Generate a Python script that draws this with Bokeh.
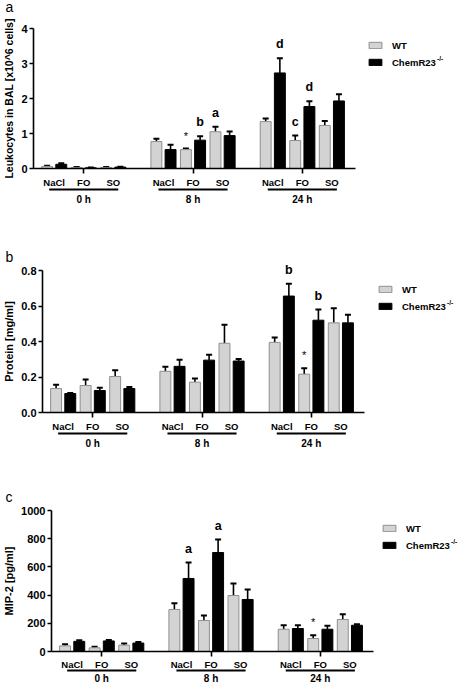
import numpy as np
from bokeh.plotting import figure
from bokeh.models import ColumnDataSource, FixedTicker, Range1d, Whisker, TeeHead, Legend, LegendItem
from bokeh.layouts import column
from bokeh.core.properties import value
from bokeh.embed import file_html
from bokeh.resources import INLINE

# ---------------- data ----------------
times = ["0 h", "8 h", "24 h"]
treatments = ["NaCl", "FO", "SO"]
series_names = ["WT", "ChemR23"]
# order: 0h NaCl, 0h FO, 0h SO, 8h NaCl, 8h FO, 8h SO, 24h NaCl, 24h FO, 24h SO

leuko_wt = [0.06, 0.03, 0.03, 0.77, 0.54, 1.05, 1.34, 0.80, 1.23]
leuko_wt_sem = [0.02, 0.01, 0.01, 0.08, 0.03, 0.14, 0.09, 0.14, 0.13]
leuko_ko = [0.12, 0.02, 0.04, 0.54, 0.81, 0.94, 2.73, 1.77, 1.93]
leuko_ko_sem = [0.03, 0.01, 0.01, 0.14, 0.11, 0.12, 0.42, 0.15, 0.19]
leuko_ticks = [0, 1, 2, 3, 4]
leuko_tick_labels = ["0", "1", "2", "3", "4"]
leuko_marks = [("WT", 4, "*"), ("KO", 4, "b"), ("WT", 5, "a"),
               ("KO", 6, "d"), ("WT", 7, "c"), ("KO", 7, "d")]

protein_wt = [0.135, 0.152, 0.203, 0.232, 0.171, 0.390, 0.395, 0.216, 0.505]
protein_wt_sem = [0.022, 0.034, 0.035, 0.026, 0.020, 0.105, 0.028, 0.034, 0.082]
protein_ko = [0.107, 0.124, 0.135, 0.260, 0.295, 0.290, 0.656, 0.520, 0.505]
protein_ko_sem = [0.003, 0.015, 0.008, 0.037, 0.030, 0.012, 0.070, 0.060, 0.046]
protein_ticks = [0.0, 0.2, 0.4, 0.6, 0.8]
protein_tick_labels = ["0.0", "0.2", "0.4", "0.6", "0.8"]
protein_marks = [("KO", 6, "b"), ("WT", 7, "*"), ("KO", 7, "b")]

mip_wt = [40, 26, 45, 298, 220, 397, 158, 92, 227]
mip_wt_sem = [12, 7, 12, 45, 36, 85, 28, 24, 38]
mip_ko = [72, 75, 60, 518, 702, 369, 163, 158, 186]
mip_ko_sem = [7, 7, 7, 113, 92, 70, 23, 25, 8]
mip_ticks = [0, 200, 400, 600, 800, 1000]
mip_tick_labels = ["0", "200", "400", "600", "800", "1000"]
mip_marks = [("KO", 3, "a"), ("KO", 4, "a"), ("WT", 7, "*")]

# ---------------- style / layout ----------------
FONT = "Liberation Sans"
WT_FILL, WT_LINE = "#d3d3d3", "#8f8f8f"
GROUP_STEP = 3.7
HALF_PAIR = 0.24
BAR_W = 0.37
X0, X_AXIS_END = -0.7, 10.2
PPU_X = 29.54
WIDTH = 456

pair_x = np.array([g * GROUP_STEP + t for g in range(len(times)) for t in range(len(treatments))], dtype=float)
group_x = np.array([g * GROUP_STEP + 1 for g in range(len(times))], dtype=float)


def build(tag, ylabel, ymax, ticks, tick_labels, wt, wt_sem, ko, ko_sem, marks,
          height, top, left, frame_h, offs, tag_dy, leg_x, ylabel_size="11px"):
    bottom = height - top - frame_h
    frame_w = WIDTH - left
    x1 = X0 + frame_w / PPU_X
    p = figure(frame_width=frame_w, frame_height=frame_h,
               x_range=Range1d(X0, x1), y_range=Range1d(0, ymax),
               output_backend="svg", toolbar_location=None,
               min_border_left=left, min_border_right=0,
               min_border_top=top, min_border_bottom=bottom)
    try:
        p.frame_align = False
    except Exception:
        pass
    p.grid.visible = False
    p.outline_line_color = None
    ppu_y = frame_h / ymax

    x_wt = pair_x - HALF_PAIR
    x_ko = pair_x + HALF_PAIR
    src = ColumnDataSource(dict(x_wt=x_wt, x_ko=x_ko, wt=wt, ko=ko,
                                wt_top=np.add(wt, wt_sem), ko_top=np.add(ko, ko_sem)))
    for xc, lo, hi in (("x_wt", "wt", "wt_top"), ("x_ko", "ko", "ko_top")):
        p.add_layout(Whisker(source=src, base=xc, lower=lo, upper=hi, dimension="height",
                             line_color="black", line_width=1.6, lower_head=None,
                             upper_head=TeeHead(size=6, line_width=2, line_color="black")))
    r_wt = p.vbar(x="x_wt", top="wt", width=BAR_W, source=src,
                  fill_color=WT_FILL, line_color=WT_LINE, line_width=1)
    r_ko = p.vbar(x="x_ko", top="ko", width=BAR_W, source=src,
                  fill_color="black", line_color="black", line_width=1)

    # significance marks
    lx, ly, lt, sx, sy, st = [], [], [], [], [], []
    for who, i, t in marks:
        xx = x_wt[i] if who == "WT" else x_ko[i]
        yy = (wt[i] + wt_sem[i]) if who == "WT" else (ko[i] + ko_sem[i])
        if t == "*":
            sx.append(xx); sy.append(yy); st.append(t)
        else:
            lx.append(xx); ly.append(yy); lt.append(t)
    if lt:
        r = p.text(x=lx, y=ly, text=lt, y_offset=-14, text_align="center", text_baseline="middle",
                   text_font=value(FONT), text_font_style="bold", text_font_size="12.5px", text_color="black")
        r.level = "overlay"
    if st:
        r = p.text(x=sx, y=sy, text=st, y_offset=-13, text_align="center", text_baseline="middle",
                   text_font=value(FONT), text_font_style="normal", text_font_size="11px", text_color="black")
        r.level = "overlay"

    # x axis: treatment labels as tick labels, tick marks (minor) under FO
    xa = p.xaxis[0]
    xa.bounds = (X0, X_AXIS_END)
    xa.ticker = FixedTicker(ticks=list(pair_x), minor_ticks=list(group_x))
    xa.major_label_overrides = {float(x): t for x, t in zip(pair_x, treatments * len(times))}
    xa.major_label_text_font = FONT
    xa.major_label_text_font_style = "bold"
    xa.major_label_text_font_size = "9.5px"
    xa.major_label_text_color = "black"
    xa.major_label_standoff = offs[0]
    xa.major_tick_out = 0
    xa.major_tick_in = 0
    xa.major_tick_line_color = None
    xa.minor_tick_out = 5
    xa.minor_tick_in = 0
    xa.minor_tick_line_width = 1.6
    xa.minor_tick_line_color = "black"
    xa.axis_line_width = 1.6
    xa.axis_line_color = "black"

    ya = p.yaxis[0]
    ya.ticker = FixedTicker(ticks=ticks)
    ya.major_label_overrides = {t: l for t, l in zip(ticks, tick_labels)}
    ya.major_label_text_font = FONT
    ya.major_label_text_font_style = "bold"
    ya.major_label_text_font_size = "11px"
    ya.major_label_text_color = "black"
    ya.major_label_standoff = 2
    ya.major_tick_out = 4
    ya.major_tick_in = 0
    ya.minor_tick_line_color = None
    ya.axis_line_width = 1.6
    ya.major_tick_line_width = 1.6
    ya.axis_label = ylabel
    ya.axis_label_text_font = FONT
    ya.axis_label_text_font_style = "bold"
    ya.axis_label_text_font_size = ylabel_size
    ya.axis_label_text_color = "black"
    ya.axis_label_standoff = 3

    # group underline and time labels
    yline = -offs[1] / ppu_y
    r = p.segment(x0=group_x - 1.17, x1=group_x + 1.17, y0=[yline] * 3, y1=[yline] * 3,
                  line_color="black", line_width=2.2)
    r.level = "overlay"
    r = p.text(x=group_x, y=np.zeros(len(group_x)), text=times, y_offset=offs[2],
               text_align="center", text_baseline="middle", text_font=value(FONT),
               text_font_style="bold", text_font_size="10px", text_color="black")
    r.level = "overlay"

    # panel tag
    r = p.text(x=[X0], y=[ymax], text=[tag], x_offset=1 - left, y_offset=tag_dy,
               text_align="left", text_baseline="middle", text_font=value(FONT),
               text_font_size="14px", text_color="black")
    r.level = "overlay"

    # legend (inside the wide frame, right of the axis end)
    leg_y = 100
    leg = Legend(items=[LegendItem(label=series_names[0], renderers=[r_wt]),
                        LegendItem(label=series_names[1], renderers=[r_ko])],
                 location=(leg_x, leg_y), padding=0, margin=0, spacing=5,
                 glyph_width=16, glyph_height=8, label_height=12, label_standoff=9,
                 label_text_font=FONT, label_text_font_style="bold", label_text_font_size="9.5px",
                 label_text_color="black", border_line_color=None, background_fill_alpha=0)
    p.add_layout(leg)
    sup_x = X0 + (leg_x + 16 + 9 + 44.5) / PPU_X
    sup_y = (leg_y + 6 + 4) / ppu_y
    r = p.text(x=[sup_x], y=[sup_y], text=["-/-"], text_align="left", text_baseline="middle",
               text_font=value(FONT), text_font_style="bold", text_font_size="6.5px", text_color="black")
    r.level = "overlay"
    return p


pa = build("a", "Leukocytes in BAL [x10^6 cells]", 4, leuko_ticks, leuko_tick_labels,
           leuko_wt, leuko_wt_sem, leuko_ko, leuko_ko_sem, leuko_marks,
           height=230, top=28, left=29, frame_h=140, offs=(3, 21, 31), tag_dy=-22, leg_x=334,
           ylabel_size="10.5px")
pb = build("b", "Protein [mg/ml]", 0.8, protein_ticks, protein_tick_labels,
           protein_wt, protein_wt_sem, protein_ko, protein_ko_sem, protein_marks,
           height=232, top=40, left=38, frame_h=142, offs=(3, 21, 31), tag_dy=-14, leg_x=335)
pc = build("c", "MIP-2 [pg/ml]", 1000, mip_ticks, mip_tick_labels,
           mip_wt, mip_wt_sem, mip_ko, mip_ko_sem, mip_marks,
           height=221, top=48, left=47, frame_h=141, offs=(2, 19, 27), tag_dy=-14, leg_x=330)

layout = column(pa, pb, pc, spacing=0)
open("out.html", "w").write(file_html(layout, INLINE))
